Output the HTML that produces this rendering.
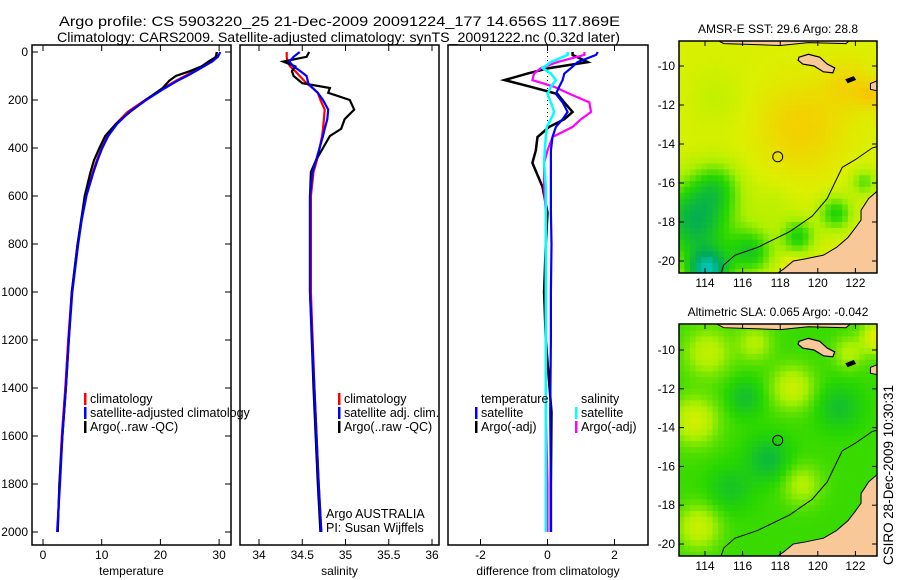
<!DOCTYPE html>
<html><head><meta charset="utf-8"><style>
html,body{margin:0;padding:0;background:#fff}
svg{display:block;font-family:"Liberation Sans",sans-serif}
</style></head><body>
<svg id="fig" width="900" height="580" viewBox="0 0 900 580" xmlns="http://www.w3.org/2000/svg">
<text x="59" y="26" font-size="14" textLength="561" lengthAdjust="spacingAndGlyphs">Argo profile: CS 5903220_25 21-Dec-2009 20091224_177 14.656S 117.869E</text>
<text x="57" y="42" font-size="14" textLength="563" lengthAdjust="spacingAndGlyphs">Climatology: CARS2009. Satellite-adjusted climatology: synTS_20091222.nc (0.32d later)</text>
<g id="panels"></g>
<g id="maps"></g>
<text transform="translate(893,565) rotate(-90)" font-size="13.5" textLength="180" lengthAdjust="spacingAndGlyphs">CSIRO 28-Dec-2009 10:30:31</text>
</svg>
<script>
// ---------- profile data ----------
const tDepth=[0,20,40,60,80,100,120,150,200,250,300,350,400,450,500,600,700,800,1000,1200,1400,1600,1800,2000];
const tClim =[29.6,29.4,28.6,27.2,25.8,24.2,22.6,20.6,17.4,14.4,12.4,11.0,10.0,9.2,8.5,7.3,6.5,5.9,4.9,4.3,3.8,3.2,2.8,2.5];
const tSat  =[30.2,29.8,28.8,27.4,26.0,24.5,22.9,20.8,17.6,14.7,12.6,11.1,10.1,9.3,8.6,7.4,6.6,6.0,5.0,4.4,3.9,3.3,2.9,2.4];
const tArgo =[29.6,29.5,28.2,27.0,25.0,22.6,21.5,20.4,17.5,14.8,12.4,10.6,9.6,8.7,8.1,7.1,6.5,5.9,4.9,4.4,3.9,3.3,2.8,2.5];
const sDepth=[0,20,40,60,80,100,130,150,170,200,240,280,320,350,400,450,500,600,800,1000,1400,1800,2000];
const sClim =[34.32,34.32,34.33,34.36,34.42,34.47,34.55,34.62,34.68,34.71,34.76,34.75,34.74,34.73,34.70,34.67,34.63,34.60,34.60,34.60,34.64,34.69,34.72];
const sSat  =[34.47,34.40,34.35,34.40,34.48,34.55,34.57,34.62,34.68,34.74,34.80,34.79,34.76,34.74,34.70,34.66,34.62,34.59,34.59,34.59,34.64,34.69,34.72];
const sArgo =[34.58,34.55,34.28,34.42,34.38,34.40,34.50,34.82,34.80,35.05,35.10,34.99,34.95,34.82,34.74,34.66,34.60,34.59,34.59,34.59,34.63,34.68,34.71];
const dDepth=[0,12,42,67,90,117,145,175,210,250,280,312,354,410,462,562,670,800,1000,1200,1500,1800,2000];
const dTSat =[1.5,1.45,0.9,0.7,0.5,0.45,0.35,0.25,0.45,0.6,0.45,0.25,0.15,0.1,0.1,0.1,0.1,0.12,0.1,0.1,0.08,0.1,0.1];
const dTArgo=[0.75,0.75,1.2,0.05,-0.6,-1.28,-0.5,0.3,0.5,0.75,0.5,0.05,-0.3,-0.35,-0.45,-0.15,0.0,-0.05,-0.1,-0.05,0.12,0.1,0.1];
const dSSat =[0.6,0.6,0.1,-0.15,0.1,0.25,0.1,0.0,0.1,0.2,0.1,-0.02,-0.05,-0.08,-0.1,-0.05,-0.05,-0.05,-0.05,-0.05,-0.05,-0.05,-0.05];
const dSArgo=[1.1,1.1,0.3,-0.2,-0.4,-0.45,0.2,0.67,1.25,1.3,1.0,0.75,0.15,0.0,-0.1,-0.1,-0.05,-0.05,-0.05,-0.05,-0.05,0,0];
const yTicks=[0,200,400,600,800,1000,1200,1400,1600,1800,2000];
const tTicks=[0,10,20,30], sTicks=[34,34.5,35,35.5,36], dTicks=[-2,0,2];

const NS="http://www.w3.org/2000/svg";
function mk(tag,attrs,parent){const e=document.createElementNS(NS,tag);for(const k in attrs)e.setAttribute(k,attrs[k]);parent.appendChild(e);return e;}
const Y=d=>52+d*0.24;
const panelsG=document.getElementById('panels');
const P1={x0:32,x1:231,sx:v=>43+v*5.87};
const P2={x0:240,x1:439,sx:v=>259+(v-34)*86.5};
const P3={x0:448,x1:648,sx:v=>547.5+v*33.5};
const pTop=52-7, pBot=545;

function box(P,name){
  const r=mk('rect',{x:P.x0,y:pTop,width:P.x1-P.x0,height:pBot-pTop,fill:'none',stroke:'#000','stroke-width':1.5},panelsG);
  
  
}
function line(P,dep,vals,color,name,w){
  const pts=dep.map((d,i)=>P.sx(vals[i]).toFixed(1)+','+Y(d).toFixed(1)).join(' ');
  const pl=mk('polyline',{points:pts,fill:'none',stroke:color,'stroke-width':w||2.2,'stroke-linejoin':'miter'},panelsG);
  
  
}
function xt(P,ticks,label,name){
  ticks.forEach(v=>{
    const x=P.sx(v);
    mk('line',{x1:x,y1:pBot,x2:x,y2:pBot-6,stroke:'#000'},panelsG);
    mk('line',{x1:x,y1:pTop,x2:x,y2:pTop+6,stroke:'#000'},panelsG);
    const t=mk('text',{x:x,y:pBot+14,'font-size':12,'text-anchor':'middle'},panelsG);t.textContent=String(v);
    
    
  });
  const l=mk('text',{x:(P.x0+P.x1)/2,y:pBot+30,'font-size':12,'text-anchor':'middle'},panelsG);l.textContent=label;
  
  
}
box(P1,'temperature-panel');box(P2,'salinity-panel');box(P3,'difference-panel');
yTicks.forEach(d=>{
  const y=Y(d);
  mk('line',{x1:P1.x0,y1:y,x2:P1.x0+6,y2:y,stroke:'#000'},panelsG);
  mk('line',{x1:P1.x1,y1:y,x2:P1.x1-6,y2:y,stroke:'#000'},panelsG);
  const t=mk('text',{x:28,y:y+4,'font-size':12,'text-anchor':'end'},panelsG);t.textContent=String(d);
  
  
});
xt(P1,tTicks,'temperature','x-axis-title-temperature');
xt(P2,sTicks,'salinity','x-axis-title-salinity');
xt(P3,dTicks,'difference from climatology','x-axis-title-difference');
mk('line',{x1:P3.sx(0),y1:Y(0),x2:P3.sx(0),y2:Y(300),stroke:'#000','stroke-dasharray':'1,3'},panelsG);

line(P1,tDepth,tClim,'#f00','temp-climatology-line');
line(P1,tDepth,tArgo,'#000','temp-argo-line');
line(P1,tDepth,tSat,'#00f','temp-satellite-line');
line(P2,sDepth,sClim,'#f00','sal-climatology-line');
line(P2,sDepth,sArgo,'#000','sal-argo-line');
line(P2,sDepth,sSat,'#00f','sal-satellite-line');
line(P3,dDepth,dTArgo,'#000','diff-temp-argo-line',2.5);
line(P3,dDepth,dSArgo,'#f0f','diff-sal-argo-line');
line(P3,dDepth,dTSat,'#00f','diff-temp-satellite-line');
line(P3,dDepth,dSSat,'#0ff','diff-sal-satellite-line',2.5);

function legend(x,y,color,txt,name){
  if(color) mk('rect',{x:x-6,y:y-10,width:2.5,height:12,fill:color},panelsG);
  const t=mk('text',{x:x,y:y,'font-size':12.5},panelsG);t.textContent=txt;
  
  
}
legend(90,403,'#f00','climatology','legend-climatology');
legend(90,417,'#00f','satellite-adjusted climatology','legend-satellite-adjusted');
legend(90,431,'#000','Argo(..raw -QC)','legend-argo');
legend(344,403,'#f00','climatology','legend-sal-climatology');
legend(344,417,'#00f','satellite adj. clim.','legend-sal-satellite');
legend(344,431,'#000','Argo(..raw -QC)','legend-sal-argo');
legend(326,518,null,'Argo AUSTRALIA','argo-australia-label');
legend(326,532,null,'PI: Susan Wijffels','pi-label');
legend(481,403,null,'temperature','legend-temperature-header');
legend(481,417,'#00f','satellite','legend-temp-satellite');
legend(481,431,'#000','Argo(-adj)','legend-temp-argo');
legend(581,403,null,'salinity','legend-salinity-header');
legend(581,417,'#0ff','satellite','legend-sal-satellite-diff');
legend(581,431,'#f0f','Argo(-adj)','legend-sal-argo-diff');

// ---------- maps ----------
const lonTicks=[114,116,118,120,122];
const latTicks=[-10,-12,-14,-16,-18,-20];
const sstBlobs=[[119,-13,0.13,2.4],[121.5,-10.8,0.1,1.3],[122.7,-11.3,0.12,0.7],[113.3,-17.8,-0.42,2.0],[114.5,-16,-0.2,1.3],[114,-20.4,-0.55,1.1],[116.3,-19.4,-0.3,1.2],[118.8,-18.6,-0.28,0.9],[120.8,-17.4,-0.28,0.9],[122.3,-15.8,-0.2,0.7],[118.5,-20.2,0.15,0.5],[114.5,-11.5,-0.05,1.5],[117.5,-17,-0.06,1.2]];
const slaBlobs=[[113.3,-13.5,0.22,1.2],[118.5,-11.8,0.2,1.1],[113.5,-19,0.2,1.1],[119,-16.8,0.15,1.0],[123,-9.2,0.28,0.8],[114,-10,0.18,1.2],[116.5,-9.5,0.15,0.9],[117.2,-15.5,-0.15,1.1],[116,-12.3,-0.12,0.9],[121,-12.8,-0.12,1.1],[115.2,-17,-0.1,1.1],[121.5,-10,0.15,0.8]];
const stationLon=117.869, stationLat=-14.656;
const cmap=[[0,[0,210,230]],[0.25,[0,170,90]],[0.45,[40,215,0]],[0.6,[170,240,0]],[0.72,[220,240,0]],[0.85,[245,205,0]],[1,[240,170,0]]];
function col(v){v=Math.max(0,Math.min(1,v));for(let i=1;i<cmap.length;i++){if(v<=cmap[i][0]){const a=cmap[i-1],b=cmap[i],f=(v-a[0])/(b[0]-a[0]);return 'rgb('+a[1].map((c,k)=>Math.round(c+(b[1][k]-c)*f)).join(',')+')';}}return 'rgb(240,170,0)';}
const mapsG=document.getElementById('maps');
function drawMap(M,blobs,base,title,name){
  const g=mk('g',{},mapsG);
  
  
  const X=lon=>705+(lon-114)*18.8, YY=lat=>M.y10+(-10-lat)*M.sy;
  const cid='clip'+name;
  const cp=mk('clipPath',{id:cid},g);mk('rect',{x:679,y:M.mt,width:198,height:M.mb-M.mt},cp);
  const inner=mk('g',{'clip-path':'url(#'+cid+')'},g);
  const step=0.3;
  for(let lon=112.6;lon<123.3;lon+=step){for(let lat=-8.7;lat>-20.8;lat-=step){
    let v=base;blobs.forEach(b=>{const d2=((lon-b[0])**2+(lat-b[1])**2)/(b[3]*b[3]);v+=b[2]*Math.exp(-d2);});
    mk('rect',{x:X(lon).toFixed(1),y:YY(lat).toFixed(1),width:(step*18.8+0.6).toFixed(1),height:(step*M.sy+0.6).toFixed(1),fill:col(v)},inner);
  }}
  const contour=[[114.8,-20.8],[115.0,-20.2],[115.6,-19.7],[116.8,-19.3],[118.5,-18.5],[119.7,-17.7],[120.5,-16.8],[120.8,-16.2],[121.3,-15.2],[122,-14.8],[122.9,-14.2],[123.3,-14.1]];
  mk('polyline',{points:contour.map(p=>X(p[0])+','+YY(p[1])).join(' '),fill:'none',stroke:'#000','stroke-width':1},inner);
  const aus=[[123.3,-16.3],[122.7,-16.8],[122.3,-17.4],[122.3,-17.9],[122.0,-18.3],[121.6,-18.8],[121.0,-19.3],[120.3,-19.7],[119.3,-19.9],[118.7,-20.0],[118.2,-20.4],[117.6,-20.8],[123.3,-20.8]];
  mk('polygon',{points:aus.map(p=>X(p[0])+','+YY(p[1])).join(' '),fill:'#f8c898',stroke:'#000','stroke-width':1},inner);
  const isl=[[119.0,-9.55],[119.5,-9.4],[120.1,-9.55],[120.5,-9.9],[120.9,-10.1],[120.8,-10.35],[120.3,-10.3],[119.8,-10.0],[119.2,-9.9],[118.95,-9.7]];
  mk('polygon',{points:isl.map(p=>X(p[0])+','+YY(p[1])).join(' '),fill:'#f8c898',stroke:'#000','stroke-width':1.2},inner);
  const isl2=[[121.5,-10.7],[121.9,-10.55],[122.0,-10.7],[121.6,-10.85]];
  mk('polygon',{points:isl2.map(p=>X(p[0])+','+YY(p[1])).join(' '),fill:'#000',stroke:'#000','stroke-width':1},inner);
  const isl3=[[122.8,-10.9],[123.3,-10.7],[123.3,-11.3],[122.8,-11.2]];
  mk('polygon',{points:isl3.map(p=>X(p[0])+','+YY(p[1])).join(' '),fill:'#f8c898',stroke:'#000','stroke-width':1},inner);
  const strip=[[114.5,-8.6],[121.8,-8.6],[121.5,-8.85],[119.5,-8.8],[118,-8.95],[116.5,-8.9],[115,-8.85]];
  mk('polygon',{points:strip.map(p=>X(p[0])+','+YY(p[1])).join(' '),fill:'#f8c898',stroke:'#000','stroke-width':1},inner);
  mk('circle',{cx:X(stationLon),cy:YY(stationLat),r:5,fill:'none',stroke:'#000','stroke-width':1},g);
  mk('rect',{x:679,y:M.mt,width:198,height:M.mb-M.mt,fill:'none',stroke:'#000','stroke-width':1.5},g);
  lonTicks.forEach(l=>{const x=X(l);mk('line',{x1:x,y1:M.mb,x2:x,y2:M.mb-5,stroke:'#000'},g);mk('line',{x1:x,y1:M.mt,x2:x,y2:M.mt+5,stroke:'#000'},g);
    const t=mk('text',{x:x,y:M.mb+14,'font-size':12,'text-anchor':'middle'},g);t.textContent=String(l);
    
    });
  latTicks.forEach(l=>{const y=YY(l);mk('line',{x1:679,y1:y,x2:684,y2:y,stroke:'#000'},g);mk('line',{x1:877,y1:y,x2:872,y2:y,stroke:'#000'},g);
    const t=mk('text',{x:675,y:y+4,'font-size':12,'text-anchor':'end'},g);t.textContent=String(l);
    
    });
  const tt=mk('text',{x:778,y:M.mt-8,'font-size':12,'text-anchor':'middle'},g);tt.textContent=title;
  
  
}
drawMap({mt:41,mb:273,y10:66,sy:19.5},sstBlobs,0.71,'AMSR-E SST: 29.6 Argo: 28.8','sst-map');
drawMap({mt:324,mb:556,y10:350,sy:19.4},slaBlobs,0.47,'Altimetric SLA: 0.065 Argo: -0.042','sla-map');
</script>
</body></html>
